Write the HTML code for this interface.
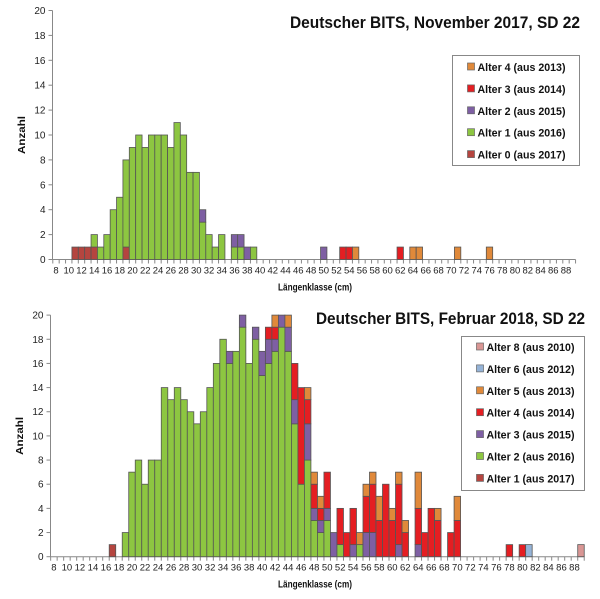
<!DOCTYPE html>
<html><head><meta charset="utf-8"><style>
html,body{margin:0;padding:0;background:#fff;}
svg{display:block;font-family:"Liberation Sans",sans-serif;}
</style></head><body>
<svg id="s" width="600" height="599" xmlns="http://www.w3.org/2000/svg"></svg>
<script>
(function(){
const C={a0:'#B5453F',g:'#8DC641',p:'#7E5FA3',r:'#E41E22',o:'#E0893A',b:'#95B3D7',k:'#D99694'};
let out='';
function chart(x0,w,y0,u,axX,data,labY){
  const yTop=y0-20*u;
  out+=`<line x1="${axX}" y1="${yTop}" x2="${axX}" y2="${y0}" stroke="#888" stroke-width="1"/>`;
  out+=`<line x1="${axX}" y1="${y0}" x2="${x0+82*w}" y2="${y0}" stroke="#888" stroke-width="1"/>`;
  for(let v=0;v<=20;v+=2){const y=y0-v*u;
    out+=`<line x1="${axX-4}" y1="${y}" x2="${axX}" y2="${y}" stroke="#888"/>`;
    out+=`<text x="${axX-7}" y="${y+3.5}" font-size="10" text-anchor="end" fill="#222">${v}</text>`;}
  for(let c=8;c<=90;c++){const x=x0+(c-8)*w;
    out+=`<line x1="${x}" y1="${y0}" x2="${x}" y2="${y0+4}" stroke="#888"/>`;
    if(c%2==0&&c<=88) out+=`<text x="${x+w/2}" y="${y0+14}" font-size="9.5" text-anchor="middle" fill="#222">${c}</text>`;}
  for(const [c,segs] of data){let base=0;const x=x0+(c-8)*w;
    for(const [col,n] of segs){const yb=y0-base*u, yt=y0-(base+n)*u;
      out+=`<rect x="${x.toFixed(2)}" y="${yt.toFixed(2)}" width="${w.toFixed(2)}" height="${(yb-yt).toFixed(2)}" fill="${C[col]}" stroke="#555" stroke-width="0.8"/>`;
      base+=n;}}
  out+=`<text transform="translate(${labY},${(y0+yTop)/2}) rotate(-90)" font-size="10" font-weight="bold" text-anchor="middle" fill="#111" textLength="38" lengthAdjust="spacingAndGlyphs">Anzahl</text>`;
  out+=`<text x="278" y="${y0+31}" font-size="10" font-weight="bold" fill="#111" textLength="74" lengthAdjust="spacingAndGlyphs">Längenklasse (cm)</text>`;
}
function G(n){return [['g',n]];}
const d1=[[11,[['a0',1]]],[12,[['a0',1]]],[13,[['a0',1]]],[14,[['a0',1],['g',1]]],[15,G(1)],[16,G(2)],[17,G(4)],[18,G(5)],[19,[['a0',1],['g',7]]],
[20,G(9)],[21,G(10)],[22,G(9)],[23,G(10)],[24,G(10)],[25,G(10)],[26,G(9)],[27,G(11)],[28,G(10)],[29,G(7)],[30,G(7)],[31,[['g',3],['p',1]]],[32,G(2)],[33,G(1)],[34,G(2)],
[36,[['g',1],['p',1]]],[37,[['g',1],['p',1]]],[38,[['p',1]]],[39,G(1)],[50,[['p',1]]],[53,[['r',1]]],[54,[['r',1]]],[55,[['o',1]]],[62,[['r',1]]],[64,[['o',1]]],[65,[['o',1]]],[71,[['o',1]]],[76,[['o',1]]]];
chart(52.8,6.375,259.5,12.45,52.5,d1,25);
const d2=[[17,[['a0',1]]],[19,G(2)],[20,G(7)],[21,G(8)],[22,G(6)],[23,G(8)],[24,G(8)],[25,G(14)],[26,G(13)],[27,G(14)],[28,G(13)],[29,G(12)],[30,G(11)],[31,G(12)],[32,G(14)],[33,G(16)],[34,G(18)],
[35,[['g',16],['p',1]]],[36,G(17)],[37,[['g',19],['p',1]]],[38,G(16)],[39,[['g',18],['p',1]]],[40,[['g',15],['p',2]]],[41,[['g',16],['p',2],['r',1]]],[42,[['g',17],['p',1],['r',1],['o',1]]],[43,[['g',19],['p',1]]],[44,[['g',17],['p',2],['o',1]]],
[45,[['g',11],['p',2],['r',3]]],[46,[['g',6],['r',8]]],[47,[['g',8],['p',3],['r',2],['o',1]]],[48,[['g',3],['p',1],['r',2],['o',1]]],[49,[['g',2],['p',1],['r',1],['o',1]]],[50,[['g',3],['p',1],['r',3]]],[51,[['p',2]]],[52,[['g',1],['r',3]]],[53,[['r',2]]],[54,[['p',1],['r',3]]],[55,[['g',1],['o',1]]],
[56,[['p',2],['r',3],['o',1]]],[57,[['p',2],['r',4],['o',1]]],[58,[['r',3],['o',2]]],[59,[['r',6]]],[60,[['r',3],['o',1]]],[61,[['p',1],['r',5],['o',1]]],[62,[['r',2],['o',1]]],[64,[['p',1],['r',3],['o',3]]],[65,[['r',2]]],[66,[['r',4]]],[67,[['r',3],['o',1]]],[69,[['r',2]]],[70,[['r',3],['o',2]]],
[78,[['r',1]]],[80,[['r',1]]],[81,[['b',1]]],[89,[['k',1]]]];
chart(50.65,6.507,556.7,12.08,50.5,d2,23);
out+=`<text x="290" y="28" font-size="17" font-weight="bold" fill="#111" textLength="290" lengthAdjust="spacingAndGlyphs">Deutscher BITS, November 2017, SD 22</text>`;
out+=`<text x="316" y="324" font-size="17" font-weight="bold" fill="#111" textLength="269" lengthAdjust="spacingAndGlyphs">Deutscher BITS, Februar 2018, SD 22</text>`;
function legend(x,y,w,h,items,y1){
  out+=`<rect x="${x}" y="${y}" width="${w}" height="${h}" fill="#fff" stroke="#888"/>`;
  items.forEach(([col,t],i)=>{const yy=y1+i*21.9;
    out+=`<rect x="${x+15}" y="${yy-4}" width="7" height="7" fill="${C[col]}" stroke="#666" stroke-width="0.7"/>`;
    out+=`<text x="${x+25}" y="${yy+4}" font-size="11" font-weight="bold" fill="#111" textLength="88" lengthAdjust="spacingAndGlyphs">${t}</text>`;});
}
legend(452.5,55.5,127,110,[['o','Alter 4 (aus 2013)'],['r','Alter 3 (aus 2014)'],['p','Alter 2 (aus 2015)'],['g','Alter 1 (aus 2016)'],['a0','Alter 0 (aus 2017)']],67);
legend(461.5,336.5,123,154,[['k','Alter 8 (aus 2010)'],['b','Alter 6 (aus 2012)'],['o','Alter 5 (aus 2013)'],['r','Alter 4 (aus 2014)'],['p','Alter 3 (aus 2015)'],['g','Alter 2 (aus 2016)'],['a0','Alter 1 (aus 2017)']],347);
document.getElementById('s').innerHTML=out;
})();
</script>
</body></html>
